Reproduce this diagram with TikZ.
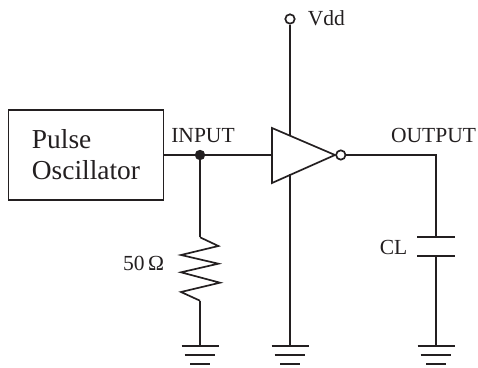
\documentclass[tikz,border=0pt]{standalone}
\usepackage{fontspec}
\usepackage{tikz}
\setmainfont{Liberation Serif}
\definecolor{ink}{HTML}{231F20}

\tikzset{
    wire/.style={draw=ink, line width=1.2pt},
    label/.style={text=ink, inner sep=0pt, font=\fontsize{15.3}{18}\selectfont},
    pin/.style={circle, draw=ink, line width=1.2pt, fill=white, inner sep=0pt, minimum size=0.235cm}
}

\begin{document}
\begin{tikzpicture}
    \useasboundingbox (0,0) rectangle (11.95,9.175);
    % source block
    \node[wire, text=ink, align=left, inner sep=0pt, minimum width=3.875cm, minimum height=2.25cm,
          font=\fontsize{19.5}{22}\selectfont] (osc) at (2.15,5.3) {Pulse\\Oscillator};
    % inverter
    \coordinate (invtl) at (6.8,5.975);
    \coordinate (invbl) at (6.8,4.6);
    \coordinate (invtip) at (8.375,5.3);
    \coordinate (invin) at (6.8,5.3);
    \coordinate (invtop) at (7.25,5.782);
    \coordinate (invbot) at (7.25,4.818);
    \draw[wire, line join=miter] (invtl) -- (invtip) -- (invbl) -- cycle;
    \node[pin] (bubble) at (8.52,5.3) {};
    \node[pin] (vddpin) at (7.25,8.7) {};
    \node[circle, fill=ink, inner sep=0pt, minimum size=0.26cm] (injoin) at (5,5.3) {};
    % named points on the wires
    \coordinate (rtop) at (5,3.2425);
    \coordinate (rbot) at (5,1.6575);
    \coordinate (outcorner) at (10.9,5.3);
    \coordinate (capa) at (10.9,3.25);
    \coordinate (capb) at (10.9,2.7825);
    \coordinate (gndr) at (5,0.525);
    \coordinate (gndi) at (7.25,0.525);
    \coordinate (gndc) at (10.9,0.525);
    % connectors
    \draw[wire] (osc.east |- injoin) -- (injoin);
    \draw[wire] (injoin) -- (invin);
    \draw[wire] (vddpin) -- (invtop);
    \draw[wire] (invbot) -- (gndi);
    \draw[wire] (bubble) -- (outcorner) -- (capa);
    \draw[wire] (capb) -- (gndc);
    \draw[wire] (injoin) -- (rtop);
    \draw[wire] (rbot) -- (gndr);
    % resistor
    \draw[wire, line join=miter] (rtop) -- (5.46,3.025) -- (4.525,2.8) -- (5.46,2.5825) -- (4.525,2.3675) -- (5.5,2.1075) -- (4.525,1.875) -- (rbot);
    % capacitor
    \draw[wire] ([xshift=-0.475cm]capa) -- ([xshift=0.475cm]capa);
    \draw[wire] ([xshift=-0.475cm]capb) -- ([xshift=0.475cm]capb);
    % grounds
    \foreach \gnd in {gndr,gndi,gndc} {
        \draw[wire] ([xshift=-0.4625cm]\gnd) -- ([xshift=0.4625cm]\gnd);
        \draw[wire] ([xshift=-0.385cm,yshift=-0.225cm]\gnd) -- ([xshift=0.385cm,yshift=-0.225cm]\gnd);
        \draw[wire] ([xshift=-0.25cm,yshift=-0.45cm]\gnd) -- ([xshift=0.25cm,yshift=-0.45cm]\gnd);
    }
    % labels
    \node[label] (vddtext) at (8.16,8.72) {Vdd};
    \node[label] (intext) at (5.075,5.785) {INPUT};
    \node[label] (outtext) at (10.84,5.8) {OUTPUT};
    \node[label] (cltext) at (9.84,3.0) {CL};
    \node[label] (rtext) at (3.59,2.6) {50\,Ω};
\end{tikzpicture}
\end{document}
